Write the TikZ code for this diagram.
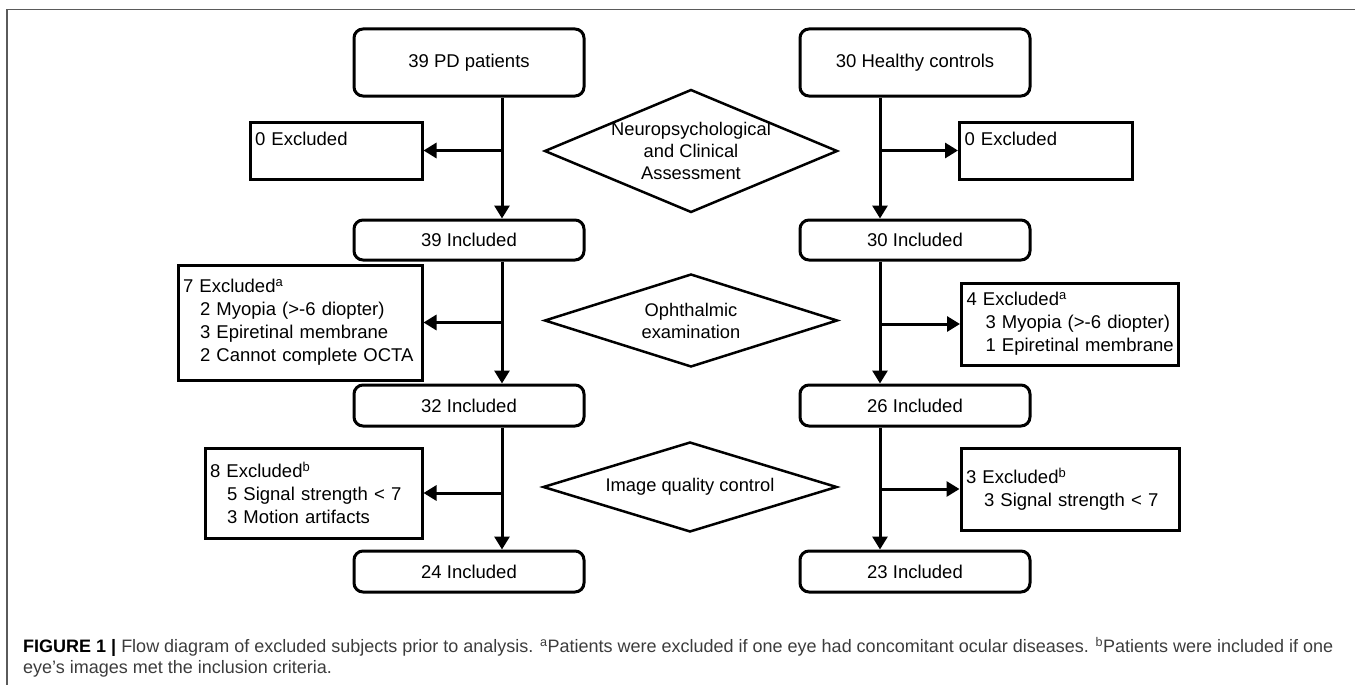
\documentclass[tikz,border=0pt]{standalone}
\usepackage{fontspec}
\setmainfont{Liberation Sans}
\usetikzlibrary{arrows.meta,shapes.geometric,calc}
\definecolor{capgray}{RGB}{60,60,60}
\definecolor{framegray}{RGB}{90,90,90}
\begin{document}
\begin{tikzpicture}[x=1pt,y=-1pt,
  every node/.style={font=\fontsize{18.5}{23}\selectfont, text=black},
  roundbox/.style={draw, line width=3pt, rounded corners=9pt, minimum width=230pt, inner sep=0pt},
  exbox/.style={draw, line width=3pt, align=left, inner xsep=5pt, inner ysep=0pt, anchor=center},
  diam/.style={draw, line width=2.5pt, diamond, inner sep=0pt},
  difftext/.style={align=center, font=\fontsize{18.3}{22}\selectfont},
  arr/.style={line width=3pt, -{Triangle[length=13pt,width=15pt]}},
  captext/.style={anchor=west, inner sep=0pt, font=\fontsize{18}{22}\selectfont, text=capgray}
]
\useasboundingbox (0,0) rectangle (1355,685);
% frame
\draw[framegray, line width=1.5pt] (1355,9.5) -- (7,9.5) -- (7,685);

% column guide coordinates
\coordinate (xL) at (502,0);
\coordinate (xR) at (880,0);

% main boxes
\node[roundbox, minimum height=67pt] (pd) at (469,62.5) {39 PD patients};
\node[roundbox, minimum height=67pt] (hc) at (915,62.5) {30 Healthy controls};
\node[roundbox, minimum height=40pt] (inL1) at (469,240) {39 Included};
\node[roundbox, minimum height=40pt] (inR1) at (915,240) {30 Included};
\node[roundbox, minimum height=41pt] (inL2) at (469,405.5) {32 Included};
\node[roundbox, minimum height=41pt] (inR2) at (915,405.5) {26 Included};
\node[roundbox, minimum height=41pt] (inL3) at (469,571.5) {24 Included};
\node[roundbox, minimum height=41pt] (inR3) at (915,571.5) {23 Included};

% exclusion boxes
\node[exbox, text width=162pt, minimum height=57pt] (exL1) at (336,150.5) {0 Excluded\\\mbox{}};
\node[exbox, text width=163pt, minimum height=57pt] (exR1) at (1046,150.5) {0 Excluded\\\mbox{}};
\node[exbox, text width=234pt, minimum height=115pt] (exL2) at (300,322.5) {\mbox{7 Excluded\textsuperscript{a}}\\\mbox{\hspace*{17pt}2 Myopia (>-6 diopter)}\\\mbox{\hspace*{17pt}3 Epiretinal membrane}\\\mbox{\hspace*{17pt}2 Cannot complete OCTA}};
\node[exbox, text width=207pt, minimum height=82pt] (exR2) at (1070,324) {\mbox{4 Excluded\textsuperscript{a}}\\\mbox{\hspace*{19pt}3 Myopia (>-6 diopter)}\\\mbox{\hspace*{19pt}1 Epiretinal membrane}};
\node[exbox, text width=207pt, minimum height=90pt] (exL3) at (313.5,493) {\mbox{8 Excluded\textsuperscript{b}}\\\mbox{\hspace*{17pt}5 Signal strength < 7}\\\mbox{\hspace*{17pt}3 Motion artifacts}};
\node[exbox, text width=208pt, minimum height=82pt] (exR3) at (1070,489) {\mbox{3 Excluded\textsuperscript{b}}\\\mbox{\hspace*{18pt}3 Signal strength < 7}};

% diamonds
\node[diam, minimum width=293pt, minimum height=123pt] (d1) at (691,151) {};
\node[difftext] (t1) at (d1.center) {Neuropsychological\\and Clinical\\Assessment};
\node[diam, minimum width=293pt, minimum height=93pt] (d2) at (691,320.5) {};
\node[difftext] (t2) at (d2.center) {Ophthalmic\\examination};
\node[diam, minimum width=294pt, minimum height=90pt] (d3) at (690,487) {};
\node[difftext] (t3) at (d3.center) {Image quality control};

% vertical connectors
\draw[arr] (pd.south -| xL) -- (inL1.north -| xL);
\draw[arr] (inL1.south -| xL) -- (inL2.north -| xL);
\draw[arr] (inL2.south -| xL) -- (inL3.north -| xL);
\draw[arr] (hc.south -| xR) -- (inR1.north -| xR);
\draw[arr] (inR1.south -| xR) -- (inR2.north -| xR);
\draw[arr] (inR2.south -| xR) -- (inR3.north -| xR);

% side connectors
\draw[arr] (xL |- exL1.east) -- (exL1.east);
\draw[arr] (xL |- exL2.east) -- (exL2.east);
\draw[arr] (xL |- exL3.east) -- (exL3.east);
\draw[arr] (xR |- exR1.west) -- (exR1.west);
\draw[arr] (xR |- exR2.west) -- (exR2.west);
\draw[arr] (xR |- exR3.west) -- (exR3.west);

% caption
\node[captext] (cap1) at (23,647)
 {\textbf{\color{black}FIGURE 1 |} Flow diagram of excluded subjects prior to analysis. \textsuperscript{a}Patients were excluded if one eye had concomitant ocular diseases. \textsuperscript{b}Patients were included if one};
\node[captext] (cap2) at (23,669)
 {eye’s images met the inclusion criteria.};
\end{tikzpicture}
\end{document}
